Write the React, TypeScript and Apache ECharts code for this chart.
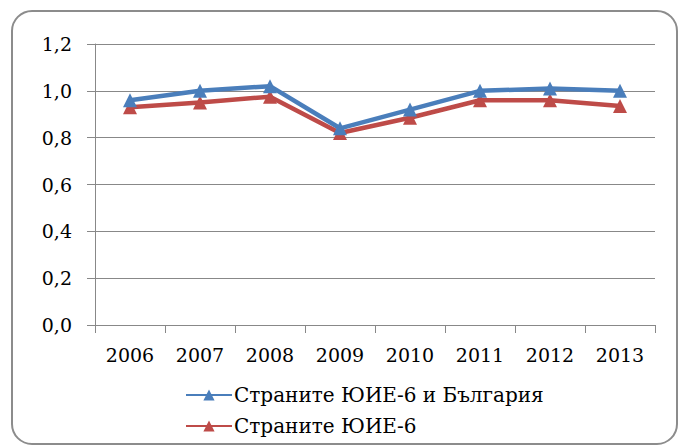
import React, { useEffect, useRef } from "react";
import * as echarts from "echarts";

const years = ["2006", "2007", "2008", "2009", "2010", "2011", "2012", "2013"];
const seriesBG = [0.96, 1.0, 1.02, 0.84, 0.92, 1.0, 1.01, 1.0];
const seriesSEE = [0.93, 0.95, 0.975, 0.82, 0.885, 0.96, 0.96, 0.935];
const nameBG = "Страните ЮИЕ-6 и България";
const nameSEE = "Страните ЮИЕ-6";

export default function App() {
  const ref = useRef<HTMLDivElement>(null);
  useEffect(() => {
    const chart = echarts.init(ref.current!, null, { renderer: "svg" });
    const font = "DejaVu Serif";
    chart.setOption({
      animation: false,
      backgroundColor: "#ffffff",
      textStyle: { fontFamily: font },
      graphic: [
        {
          type: "rect",
          z: -10,
          shape: { x: 12, y: 11, width: 665, height: 433, r: 20 },
          style: { fill: "#ffffff", stroke: "#8c8c8c", lineWidth: 2 },
          silent: true,
        },
      ],
      grid: { left: 95, right: 23, top: 44, bottom: 120, containLabel: false },
      xAxis: {
        type: "category",
        data: years,
        boundaryGap: true,
        axisLine: { lineStyle: { color: "#888888", width: 1 } },
        axisTick: { show: true, length: 8, lineStyle: { color: "#888888" } },
        axisLabel: { color: "#000", fontFamily: font, fontSize: 19, margin: 20 },
        splitLine: { show: false },
      },
      yAxis: {
        type: "value",
        min: 0,
        max: 1.2,
        interval: 0.2,
        axisLine: { show: true, lineStyle: { color: "#888888", width: 1 } },
        axisTick: { show: true, length: 8, lineStyle: { color: "#888888" } },
        axisLabel: {
          color: "#000",
          fontFamily: font,
          fontSize: 19,
          margin: 23,
          formatter: (v: number) => v.toFixed(1).replace(".", ","),
        },
        splitLine: { show: true, lineStyle: { color: "#888888", width: 1 } },
      },
      legend: {
        orient: "vertical",
        left: 180,
        top: 380,
        itemWidth: 46,
        itemHeight: 14,
        itemGap: 11,
        textStyle: { color: "#000", fontFamily: font, fontSize: 20, padding: [0, 0, 0, -3] },
        data: [nameBG, nameSEE],
      },
      series: [
        {
          name: nameSEE,
          type: "line",
          data: seriesSEE,
          symbol: "triangle",
          symbolSize: 14,
          lineStyle: { color: "#BE4B48", width: 4.5 },
          itemStyle: { color: "#BE4B48" },
          z: 2,
        },
        {
          name: nameBG,
          type: "line",
          data: seriesBG,
          symbol: "triangle",
          symbolSize: 14,
          lineStyle: { color: "#4A7EBB", width: 4.5 },
          itemStyle: { color: "#4A7EBB" },
          z: 3,
        },
      ],
    });
    return () => chart.dispose();
  }, []);
  return (
    <div
      ref={ref}
      style={{ position: "absolute", left: 0, top: 0, width: 678, height: 445 }}
    />
  );
}
